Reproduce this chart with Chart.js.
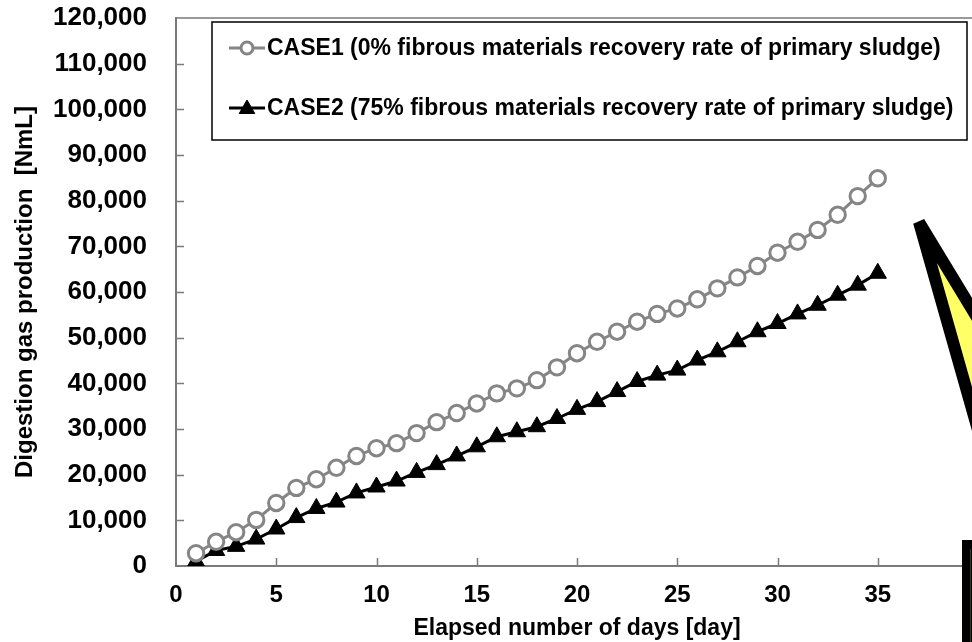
<!DOCTYPE html>
<html>
<head>
<meta charset="utf-8">
<script src="https://cdn.jsdelivr.net/npm/chart.js@4.4.1/dist/chart.umd.min.js"></script>
<style>
  html, body { margin: 0; padding: 0; background: #fff; overflow: hidden; }
  #wrap { width: 1000px; height: 642px; }
</style>
</head>
<body>
<div id="wrap"><canvas id="chart" width="1000" height="642"></canvas></div>
<script>
// values
const days = [1, 2, 3, 4, 5, 6, 7, 8, 9, 10, 11, 12, 13, 14, 15, 16, 17, 18,
  19, 20, 21, 22, 23, 24, 25, 26, 27, 28, 29, 30, 31, 32, 33, 34, 35];
const case1 = [2800, 5300, 7400, 10100, 13800, 17100, 19000, 21500, 24100, 25800,
  26900, 29100, 31500, 33500, 35600, 37800, 38900, 40700, 43500, 46600, 49100,
  51300, 53500, 55200, 56400, 58400, 60800, 63200, 65700, 68600, 71000, 73600,
  76900, 81000, 84900];
const case2 = [1000, 3400, 4300, 5900, 8100, 10600, 12600, 14000, 16000, 17300,
  18600, 20500, 22200, 24100, 26100, 28300, 29400, 30500, 32300, 34300, 36000,
  38200, 40400, 41800, 42900, 45100, 46900, 49100, 51300, 53100, 55200, 57100,
  59300, 61500, 64100];
const seriesNames = [
  "CASE1 (0% fibrous materials recovery rate of primary sludge)",
  "CASE2 (75% fibrous materials recovery rate of primary sludge)"
];
const xTitle = "Elapsed number of days [day]";
const yTitle = "Digestion gas production  [NmL]";

const FONT = "'Liberation Sans', Arial, Helvetica, sans-serif";
const GREY = "#858585";
const AXIS = "#7a7a7a";

function toPoints(vals) {
  return days.map((d, i) => ({ x: d, y: vals[i] }));
}

// inward tick marks + top frame line
const frame = {
  id: "frame",
  afterDatasetsDraw(chart) {
    const { ctx, chartArea: a, scales } = chart;
    ctx.save();
    ctx.strokeStyle = AXIS;
    ctx.lineWidth = 1.5;
    ctx.beginPath();
    ctx.moveTo(a.left, a.top);
    ctx.lineTo(a.right, a.top);
    scales.y.ticks.forEach(t => {
      if (t.value <= 0 || t.value >= 120000) return;
      const py = Math.round(scales.y.getPixelForValue(t.value)) + 0.5;
      ctx.moveTo(a.left, py);
      ctx.lineTo(a.left + 8, py);
    });
    scales.x.ticks.forEach(t => {
      if (t.value <= 0) return;
      const px = Math.round(scales.x.getPixelForValue(t.value)) + 0.5;
      ctx.moveTo(px, a.bottom);
      ctx.lineTo(px, a.bottom - 8);
    });
    ctx.stroke();
    ctx.restore();
  }
};

// boxed legend inside the plot
const boxLegend = {
  id: "boxLegend",
  afterDraw(chart) {
    const { ctx } = chart;
    const rows = [48, 108];
    ctx.save();
    ctx.strokeStyle = "#000";
    ctx.lineWidth = 1.5;
    ctx.strokeRect(212, 22, 755, 118);
    ctx.font = "bold 23px " + FONT;
    ctx.textBaseline = "middle";
    chart.data.datasets.forEach((ds, i) => {
      const y = rows[i];
      ctx.strokeStyle = ds.borderColor;
      ctx.lineWidth = ds.borderWidth;
      ctx.beginPath();
      ctx.moveTo(229, y);
      ctx.lineTo(265, y);
      ctx.stroke();
      ctx.fillStyle = ds.pointBackgroundColor;
      ctx.strokeStyle = ds.pointBorderColor;
      ctx.lineWidth = ds.pointBorderWidth;
      Chart.helpers.drawPoint(ctx, {
        pointStyle: ds.pointStyle,
        radius: ds.pointStyle === "circle" ? 6 : 9,
        rotation: 0,
        borderWidth: ds.pointBorderWidth
      }, 247, ds.pointStyle === "circle" ? y : y + 1);
      ctx.fillStyle = "#000";
      ctx.fillText(ds.label, 267, y + 1);
    });
    ctx.restore();
  }
};

// cropped call-out shapes at the right edge of the picture
const callout = {
  id: "callout",
  afterDraw(chart) {
    const { ctx } = chart;
    ctx.save();
    ctx.beginPath();
    ctx.moveTo(919, 222);
    ctx.lineTo(1010, 372);
    ctx.lineTo(1010, 543);
    ctx.closePath();
    ctx.fillStyle = "#ffff66";
    ctx.fill();
    ctx.lineJoin = "bevel";
    ctx.lineWidth = 12;
    ctx.strokeStyle = "#000";
    ctx.stroke();
    ctx.fillStyle = "#000";
    ctx.fillRect(962, 540, 40, 110);
    ctx.fillStyle = "#3a3a1a";
    ctx.fillRect(970, 549, 1, 100);
    ctx.restore();
  }
};

new Chart(document.getElementById("chart"), {
  type: "line",
  data: {
    datasets: [
      {
        label: seriesNames[0],
        data: toPoints(case1),
        borderColor: GREY,
        borderWidth: 3,
        pointStyle: "circle",
        pointRadius: 7.7,
        pointBorderWidth: 3,
        pointBorderColor: GREY,
        pointBackgroundColor: "#fff",
        tension: 0
      },
      {
        label: seriesNames[1],
        data: toPoints(case2),
        borderColor: "#000",
        borderWidth: 3,
        pointStyle: "triangle",
        pointRadius: 10,
        pointBorderWidth: 1,
        pointBorderColor: "#000",
        pointBackgroundColor: "#000",
        tension: 0
      }
    ]
  },
  options: {
    responsive: false,
    animation: false,
    layout: { padding: { left: 0, top: 18, right: 22, bottom: 0 } },
    plugins: {
      legend: { display: false },
      tooltip: { enabled: false }
    },
    scales: {
      x: {
        type: "linear",
        min: 0,
        max: 40,
        afterFit: s => { s.height = 76; s.paddingLeft = 0; s.paddingRight = 0; },
        grid: { display: false, drawTicks: false },
        border: { color: AXIS, width: 2 },
        ticks: {
          stepSize: 5,
          padding: 15,
          color: "#000",
          font: { family: FONT, size: 24, weight: "bold" }
        },
        title: {
          display: true,
          text: xTitle,
          color: "#000",
          padding: { top: 0, bottom: 0 },
          font: { family: FONT, size: 23, weight: "bold", lineHeight: 1.2 }
        }
      },
      y: {
        min: 0,
        max: 120000,
        afterFit: s => { s.width = 176; s.paddingTop = 0; s.paddingBottom = 0; },
        grid: { display: false, drawTicks: false },
        border: { color: AXIS, width: 2 },
        ticks: {
          stepSize: 10000,
          padding: 29,
          color: "#000",
          font: { family: FONT, size: 26, weight: "bold" },
          callback: v => v.toLocaleString("en-US")
        },
        title: {
          display: true,
          text: yTitle,
          color: "#000",
          padding: { top: 11, bottom: 0 },
          font: { family: FONT, size: 24, weight: "bold", lineHeight: 1.2 }
        }
      }
    }
  },
  plugins: [frame, boxLegend, callout]
});
</script>
</body>
</html>
